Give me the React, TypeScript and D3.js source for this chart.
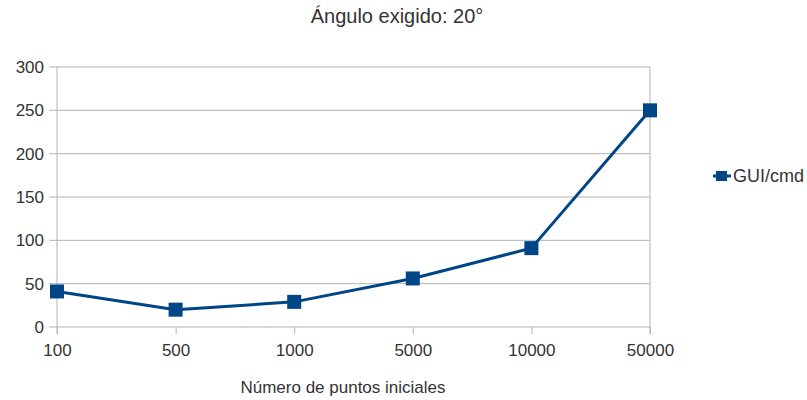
import * as d3 from 'd3';
import { useRef, useEffect } from 'react';

const categories = ['100', '500', '1000', '5000', '10000', '50000'];
const guiCmd = [41, 20, 29, 56, 91, 250];
const yTicks = [0, 50, 100, 150, 200, 250, 300];
const seriesName = 'GUI/cmd';
const title = 'Ángulo exigido: 20°';
const xTitle = 'Número de puntos iniciales';

export default function App() {
  const ref = useRef<SVGSVGElement>(null);

  useEffect(() => {
    const width = 807;
    const height = 400;
    const margin = { top: 67, right: 157, bottom: 73, left: 57 };
    const color = '#004586';
    const font = "'Liberation Sans', Arial, sans-serif";

    const svg = d3.select(ref.current)
      .attr('width', width)
      .attr('height', height)
      .style('font-family', font);
    svg.selectAll('*').remove();

    svg.append('rect').attr('width', width).attr('height', height).attr('fill', '#fff');

    // scales
    const x = d3.scalePoint()
      .domain(categories)
      .range([margin.left, width - margin.right]);
    const y = d3.scaleLinear()
      .domain([0, 300])
      .range([height - margin.bottom, margin.top]);

    // horizontal grid
    svg.append('g')
      .selectAll('line')
      .data(yTicks)
      .join('line')
      .attr('x1', margin.left - 8)
      .attr('x2', width - margin.right)
      .attr('y1', d => y(d))
      .attr('y2', d => y(d))
      .attr('stroke', '#b3b3b3')
      .attr('stroke-width', 1);

    // left and right borders
    [margin.left, width - margin.right].forEach(px => {
      svg.append('line')
        .attr('x1', px).attr('x2', px)
        .attr('y1', margin.top).attr('y2', height - margin.bottom + 7)
        .attr('stroke', '#b3b3b3');
    });

    // y axis labels
    svg.append('g')
      .attr('transform', `translate(${margin.left},0)`)
      .call(d3.axisLeft(y).tickValues(yTicks).tickSize(0).tickPadding(13))
      .call(g => g.select('.domain').remove())
      .selectAll('text')
      .attr('fill', '#333')
      .style('font-family', font)
      .style('font-size', '17px');

    // x axis
    svg.append('g')
      .attr('transform', `translate(0,${height - margin.bottom})`)
      .call(d3.axisBottom(x).tickSize(7).tickPadding(10))
      .call(g => g.select('.domain').remove())
      .call(g => g.selectAll('line').attr('stroke', '#b3b3b3'))
      .selectAll('text')
      .attr('fill', '#333')
      .style('font-family', font)
      .style('font-size', '17px');

    // series line
    const pts = categories.map((c, i) => ({ c, v: guiCmd[i] }));
    svg.append('path')
      .datum(pts)
      .attr('fill', 'none')
      .attr('stroke', color)
      .attr('stroke-width', 3)
      .attr('stroke-linejoin', 'round')
      .attr('d', d3.line<{ c: string; v: number }>().x(d => x(d.c)!).y(d => y(d.v)));

    // markers
    svg.selectAll('rect.marker')
      .data(pts)
      .join('rect')
      .attr('class', 'marker')
      .attr('x', d => x(d.c)! - 7)
      .attr('y', d => y(d.v) - 7)
      .attr('width', 14)
      .attr('height', 14)
      .attr('fill', color);

    // title
    svg.append('text')
      .attr('x', 397)
      .attr('y', 23)
      .attr('text-anchor', 'middle')
      .attr('fill', '#333')
      .style('font-size', '20px')
      .text(title);

    // x title
    svg.append('text')
      .attr('x', 343)
      .attr('y', 393)
      .attr('text-anchor', 'middle')
      .attr('fill', '#333')
      .style('font-size', '17px')
      .text(xTitle);

    // legend
    const lg = svg.append('g').attr('transform', 'translate(713,176)');
    lg.append('line').attr('x1', 0).attr('x2', 18).attr('stroke', color).attr('stroke-width', 3);
    lg.append('rect').attr('x', 3).attr('y', -5).attr('width', 11).attr('height', 10).attr('fill', color);
    lg.append('text')
      .attr('x', 20)
      .attr('y', 6)
      .attr('fill', '#333')
      .style('font-size', '18px')
      .text(seriesName);
  }, []);

  return <svg ref={ref} style={{ display: 'block', position: 'absolute', left: 0, top: 0 }}></svg>;
}
